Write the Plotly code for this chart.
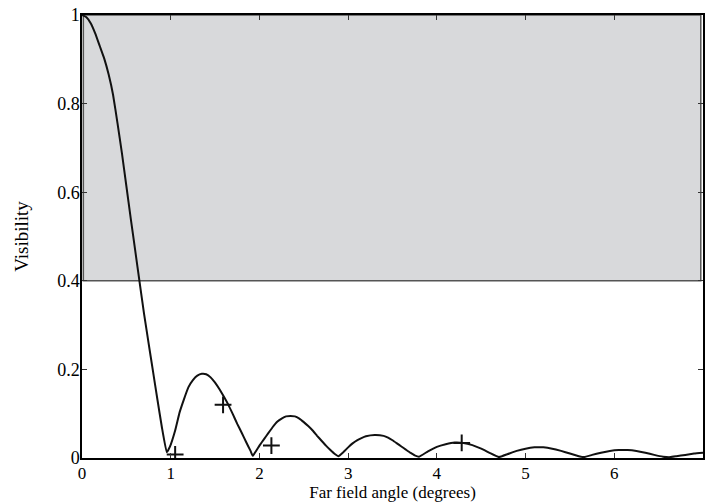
import plotly.graph_objects as go

# Curve
angle = [0.0, 0.05, 0.1, 0.15, 0.2, 0.25, 0.3, 0.35, 0.4, 0.45, 0.5, 0.55, 0.6, 0.65, 0.7, 0.75, 0.8, 0.85, 0.9, 0.955, 0.99,
         1.05, 1.1, 1.15, 1.2, 1.25, 1.3, 1.35, 1.4, 1.45, 1.5, 1.55, 1.6, 1.65, 1.7, 1.75, 1.8, 1.85, 1.9, 1.925,
         2.0, 2.05, 2.1, 2.15, 2.2, 2.25, 2.3, 2.35, 2.4, 2.45, 2.5, 2.55, 2.6, 2.65, 2.7, 2.75, 2.8, 2.85, 2.89,
         2.95, 3.0, 3.05, 3.1, 3.15, 3.2, 3.3, 3.4, 3.45, 3.5, 3.55, 3.6, 3.65, 3.7, 3.75, 3.8,
         3.9, 4.0, 4.1, 4.2, 4.3, 4.4, 4.5, 4.6, 4.7,
         4.8, 4.9, 5.0, 5.1, 5.2, 5.3, 5.4, 5.5, 5.6, 5.66,
         5.75, 5.85, 5.95, 6.05, 6.15, 6.25, 6.35, 6.45, 6.55, 6.63,
         6.7, 6.8, 6.9, 7.0]
visibility = [1.0, 0.995, 0.981, 0.958, 0.93, 0.902, 0.866, 0.82, 0.756, 0.688, 0.614, 0.54, 0.468, 0.396, 0.325, 0.26, 0.196, 0.132, 0.07, 0.013, 0.025,
              0.062, 0.103, 0.133, 0.16, 0.176, 0.186, 0.19, 0.189, 0.182, 0.17, 0.155, 0.138, 0.12, 0.099, 0.077, 0.057, 0.036, 0.016, 0.005,
              0.028, 0.042, 0.056, 0.07, 0.082, 0.089, 0.094, 0.095, 0.094, 0.089, 0.081, 0.072, 0.062, 0.05, 0.039, 0.028, 0.018, 0.009, 0.004,
              0.014, 0.024, 0.033, 0.04, 0.045, 0.049, 0.052, 0.05, 0.046, 0.04, 0.033, 0.026, 0.019, 0.012, 0.006, 0.003,
              0.015, 0.025, 0.031, 0.035, 0.034, 0.029, 0.021, 0.011, 0.002,
              0.009, 0.016, 0.021, 0.024, 0.024, 0.021, 0.016, 0.01, 0.004, 0.002,
              0.007, 0.012, 0.016, 0.018, 0.018, 0.016, 0.012, 0.007, 0.003, 0.002,
              0.004, 0.007, 0.01, 0.012]

# Measured points (+ markers)
meas_angle = [1.05, 1.59, 2.135, 4.28]
meas_vis = [0.008, 0.12, 0.028, 0.034]

# Shaded band
band_y = [0.4, 1.0]

x_ticks = [0, 1, 2, 3, 4, 5, 6, 7]
y_ticks = [0, 0.2, 0.4, 0.6, 0.8, 1]
y_tick_labels = ["0", "0.2", "0.4", "0.6", "0.8", "1"]

FONT = "Liberation Serif"

fig = go.Figure()
fig.add_trace(go.Scatter(x=angle, y=visibility, mode="lines",
                         line=dict(color="#111111", width=2, shape="spline", smoothing=0.3),
                         showlegend=False, hoverinfo="skip"))
fig.add_trace(go.Scatter(x=meas_angle, y=meas_vis, mode="markers",
                         marker=dict(symbol="cross-thin", size=12, line=dict(color="#111111", width=2)),
                         showlegend=False))

fig.add_shape(type="rect", xref="x", yref="y", x0=0.015, x1=6.975, y0=band_y[0], y1=band_y[1],
              fillcolor="#d8d9db", line=dict(color="#555555", width=1.5), layer="below")

axis_common = dict(showgrid=False, zeroline=False, showline=True, linecolor="black", linewidth=1.5,
                   mirror="ticks", ticks="inside", ticklen=5, tickwidth=1, tickcolor="#333333")

fig.update_xaxes(range=[0, 7], tickvals=x_ticks, ticktext=[str(v) for v in x_ticks],
                 tickfont=dict(family=FONT, size=17, color="black"), ticklabelstandoff=-1,
                 title=dict(text="Far field angle (degrees)", font=dict(family=FONT, size=17, color="black"), standoff=2),
                 **axis_common)
fig.update_yaxes(range=[0, 1], tickvals=y_ticks, ticktext=y_tick_labels, ticklabelstandoff=-3,
                 tickfont=dict(family=FONT, size=18, color="black"),
                 title=dict(text="Visibility", font=dict(family=FONT, size=19, color="black"), standoff=24),
                 **axis_common)

fig.update_layout(width=705, height=504, margin=dict(l=82, r=2, t=15, b=46, autoexpand=False),
                  plot_bgcolor="white", paper_bgcolor="white",
                  font=dict(family=FONT, size=18, color="black"))

fig.write_html("out.html", config={"displayModeBar": False},
               post_script="document.body.style.margin='0px';document.body.style.overflow='hidden';")
